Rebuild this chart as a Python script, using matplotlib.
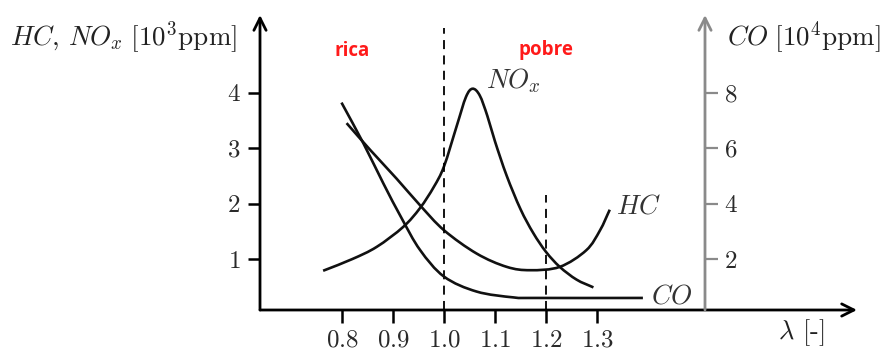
import matplotlib
matplotlib.use("Agg")
import numpy as np
import matplotlib.pyplot as plt
from matplotlib.path import Path
from matplotlib.patches import PathPatch

plt.rcParams['mathtext.fontset'] = 'cm'
plt.rcParams['font.family'] = ['cmr10', 'DejaVu Serif']
plt.rcParams['axes.unicode_minus'] = False

# Emissions vs. air ratio lambda
nox_lambda = [0.763, 0.820, 0.868, 0.920, 0.953, 0.980, 1.000, 1.025, 1.043, 1.056,
              1.070, 1.085, 1.100, 1.123, 1.150, 1.175, 1.200, 1.227, 1.260, 1.293]
nox_vals = [0.79, 1.00, 1.22, 1.58, 1.92, 2.30, 2.67, 3.40, 3.92, 4.07,
            3.95, 3.58, 3.12, 2.50, 1.90, 1.47, 1.13, 0.86, 0.63, 0.49]

hc_lambda = [0.809, 0.855, 0.907, 0.953, 1.000, 1.064, 1.123, 1.169,
             1.227, 1.279, 1.306, 1.325]
hc_vals = [3.45, 2.97, 2.45, 1.97, 1.52, 1.10, 0.86, 0.80,
           0.86, 1.16, 1.52, 1.89]

co_lambda = [0.799, 0.842, 0.881, 0.917, 0.953, 1.000, 1.064, 1.136, 1.180, 1.390]
co_vals = [7.64, 6.17, 4.73, 3.47, 2.33, 1.37, 0.83, 0.62, 0.60, 0.60]

x_ticks = [0.8, 0.9, 1.0, 1.1, 1.2, 1.3]
left_ticks = [1, 2, 3, 4]
right_ticks = [2, 4, 6, 8]

lam_stoich = 1.0
lam_lean = 1.2

W, H = 882, 350
fig = plt.figure(figsize=(W / 100, H / 100), dpi=100)

# pixel-based geometry of the axes frame
x_left, x_right, x_co, y_bot, y_top = 260, 857, 705, 310, 15
px_per_01, px_08 = 51.0, 342.0
py_per_unit, py_zero = 55.5, 314.6


def lam_at(px):
    return 0.8 + (px - px_08) / (px_per_01 * 10)


def val_at(py):
    return (py_zero - py) / py_per_unit


def smooth_curve(ax, xs, ys, **kw):
    """Draw a Catmull-Rom curve through the points as cubic Bezier segments."""
    p = np.column_stack([xs, ys]).astype(float)
    ext = np.vstack([2 * p[0] - p[1], p, 2 * p[-1] - p[-2]])
    verts = [tuple(p[0])]
    codes = [Path.MOVETO]
    for i in range(1, len(ext) - 2):
        p0, p1, p2, p3 = ext[i - 1], ext[i], ext[i + 1], ext[i + 2]
        c1 = p1 + (p2 - p0) / 6.0
        c2 = p2 - (p3 - p1) / 6.0
        verts += [tuple(c1), tuple(c2), tuple(p2)]
        codes += [Path.CURVE4] * 3
    patch = PathPatch(Path(verts, codes), fill=False, transform=ax.transData,
                      capstyle='butt', joinstyle='round', **kw)
    ax.add_patch(patch)


xlim = (lam_at(x_left), lam_at(x_right))
ylim = (val_at(y_bot), val_at(y_top))

ax = fig.add_axes([x_left / W, 1 - y_bot / H, (x_right - x_left) / W, (y_bot - y_top) / H])
ax.set_xlim(*xlim)
ax.set_ylim(*ylim)
ax.patch.set_alpha(0)
for s in ax.spines.values():
    s.set_visible(False)

# CO axis: its right edge sits on the grey axis line
ax2 = fig.add_axes([x_left / W, 1 - y_bot / H, (x_co - x_left) / W, (y_bot - y_top) / H])
ax2.set_xlim(xlim[0], lam_at(x_co))
ax2.set_ylim(2 * ylim[0], 2 * ylim[1])
ax2.patch.set_alpha(0)
for s in ax2.spines.values():
    s.set_visible(False)
ax2.set_xticks([])
ax2.yaxis.tick_right()
ax2.set_yticks(right_ticks)
ax2.set_yticklabels([f"${t}$" for t in right_ticks], fontsize=18)
ax2.tick_params(axis='y', direction='out', length=9, width=1.6, color='#8a8a8a',
                labelcolor='#2a2a2a', pad=5)

ax.set_xticks(x_ticks)
ax.set_xticklabels([f"${t:.1f}$" for t in x_ticks], fontsize=18)
ax.set_yticks(left_ticks)
ax.set_yticklabels([f"${t}$" for t in left_ticks], fontsize=18)
ax.tick_params(axis='both', direction='out', length=9, width=1.8, color='black',
               labelcolor='#2a2a2a', pad=5)

# axis arrows
arrow_kw = dict(arrowstyle='->', lw=2.0, color='black', mutation_scale=22,
                shrinkA=0, shrinkB=0)
ax.annotate('', xy=(0, 1), xytext=(0, 0), xycoords='axes fraction',
            textcoords='axes fraction', arrowprops=arrow_kw)
ax.annotate('', xy=(1, 0), xytext=(0, 0), xycoords='axes fraction',
            textcoords='axes fraction', arrowprops=arrow_kw)
gray_kw = dict(arrow_kw, color='#8a8a8a')
ax2.annotate('', xy=(1, 1), xytext=(1, 0), xycoords='axes fraction',
             textcoords='axes fraction', arrowprops=gray_kw)

# curves
line_kw = dict(edgecolor='#111111', lw=1.9)
smooth_curve(ax, nox_lambda, nox_vals, **line_kw)
smooth_curve(ax, hc_lambda, hc_vals, **line_kw)
smooth_curve(ax2, co_lambda, co_vals, **line_kw)

# dashed reference lines
ax.plot([lam_stoich, lam_stoich], [ylim[0], val_at(28)], color='black', lw=1.3,
        dashes=(5, 3.5))
ax.plot([lam_lean, lam_lean], [ylim[0], val_at(195)], color='black', lw=1.3,
        dashes=(5, 3.5))

# curve labels
lab_kw = dict(fontsize=19.5, color='#333333', va='center', ha='left')
ax.text(lam_at(486), val_at(81), r"$NO_x$", **lab_kw)
ax.text(lam_at(616), val_at(207), r"$HC$", **lab_kw)
ax.text(lam_at(651), val_at(297), r"$CO$", **lab_kw)

# axis titles
fig.text(10 / W, 1 - 38 / H, r"$HC,\,NO_x\ [10^3\mathrm{ppm}]$", fontsize=19.5,
         color='#222222', va='center', ha='left')
fig.text(727 / W, 1 - 38 / H, r"$CO\ [10^4\mathrm{ppm}]$", fontsize=19.5,
         color='#222222', va='center', ha='left')
fig.text(778 / W, 1 - 333 / H, r"$\lambda$ [-]", fontsize=19,
         color='#222222', va='center', ha='left')

# mixture regions
fig.text(352 / W, 1 - 51 / H, "rica", fontsize=13.5, fontweight='bold', color='#ff1a1a',
         family='Open Sans', va='center', ha='center')
fig.text(546 / W, 1 - 50 / H, "pobre", fontsize=13.5, fontweight='bold', color='#ff1a1a',
         family='Open Sans', va='center', ha='center')

fig.savefig("out.png", dpi=100)
